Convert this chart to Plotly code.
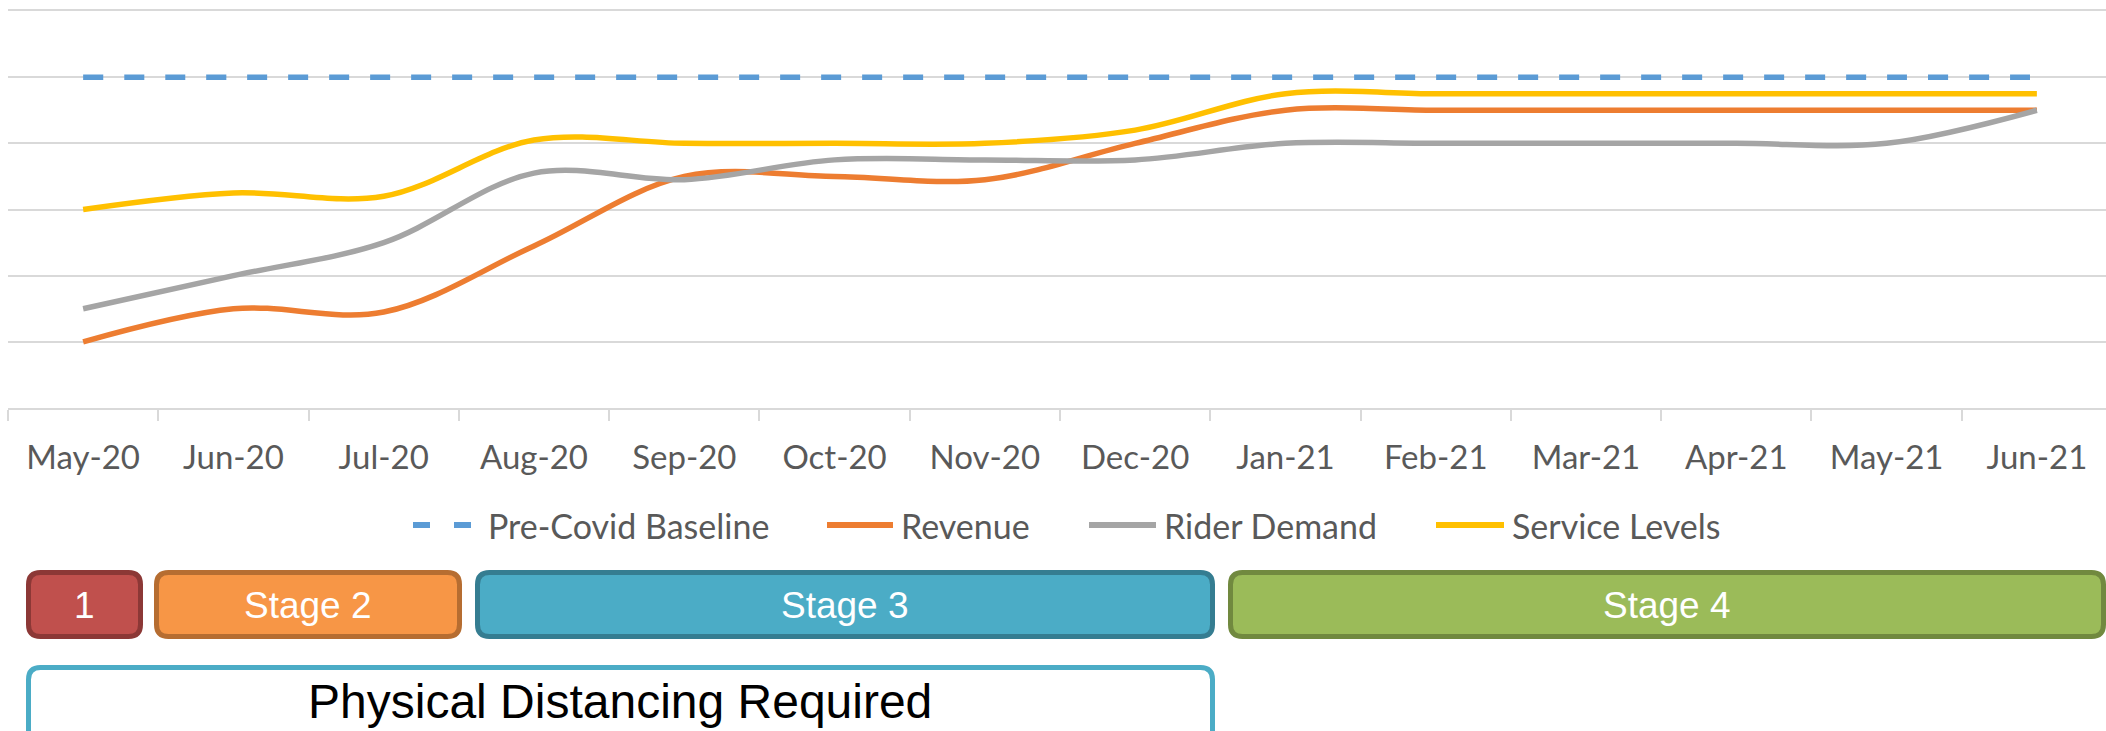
import plotly.graph_objects as go

months = ["May-20", "Jun-20", "Jul-20", "Aug-20", "Sep-20", "Oct-20", "Nov-20",
          "Dec-20", "Jan-21", "Feb-21", "Mar-21", "Apr-21", "May-21", "Jun-21"]

baseline = [100] * 14
revenue = [20, 30, 29, 49, 70, 70, 69, 80, 90, 90, 90, 90, 90, 90]
rider_demand = [30, 40, 50, 71, 69, 75, 75, 75, 80, 80, 80, 80, 80, 90]
service_levels = [60, 65, 64, 81, 80, 80, 80, 84, 95, 95, 95, 95, 95, 95]

series_names = ["Pre-Covid Baseline", "Revenue", "Rider Demand", "Service Levels"]
series_colors = ["#5b9bd5", "#ed7d31", "#a5a5a5", "#ffc000"]

# stage bars under the chart: label, left px, right px, fill, edge
stages = [
    ("1", 26, 143, "#c0504d", "#8c3836"),
    ("Stage 2", 154, 462, "#f79646", "#b66d31"),
    ("Stage 3", 475, 1215, "#4bacc6", "#357d91"),
    ("Stage 4", 1228, 2106, "#9bbb59", "#71893f"),
]

W, H = 2106, 731
L, T, B = 8, 11, 408   # plot area in page pixels


def px_x(x):
    return (x - L) / (W - L)


def px_y(y):
    return (B - y) / (B - T)


def rounded_box(x0, y0, x1, y1, r):
    # rounded rectangle path in paper coords, built from page pixels
    rx, ry = r / (W - L), r / (B - T)
    a, b, c, d = px_x(x0), px_x(x1), px_y(y0), px_y(y1)
    return (f"M {a + rx} {c} L {b - rx} {c} Q {b} {c} {b} {c - ry} "
            f"L {b} {d + ry} Q {b} {d} {b - rx} {d} L {a + rx} {d} "
            f"Q {a} {d} {a} {d + ry} L {a} {c - ry} Q {a} {c} {a + rx} {c} Z")


fig = go.Figure()
for name, vals, col in zip(series_names, [baseline, revenue, rider_demand, service_levels], series_colors):
    fig.add_trace(go.Scatter(
        x=months, y=vals, name=name, mode="lines",
        line=dict(color=col, width=5.5, shape="spline", smoothing=1,
                  dash="20px,21px" if name == "Pre-Covid Baseline" else "solid"),
        showlegend=False,
    ))

shapes = []
annotations = []
bw = 5
for label, x0, x1, fill, edge in stages:
    shapes.append(dict(type="path", xref="paper", yref="paper",
                       path=rounded_box(x0 + bw / 2, 570 + bw / 2, x1 - bw / 2, 639 - bw / 2, 12),
                       fillcolor=fill, line=dict(color=edge, width=bw)))
    annotations.append(dict(x=px_x((x0 + x1) / 2), y=px_y(605), xref="paper", yref="paper",
                            xanchor="center", yanchor="middle",
                            text=label, showarrow=False,
                            font=dict(family="Liberation Sans, Arial", size=37, color="white")))

shapes.append(dict(type="path", xref="paper", yref="paper",
                   path=rounded_box(26 + bw / 2, 665 + bw / 2, 1215 - bw / 2, 760, 12),
                   fillcolor="white", line=dict(color="#4bacc6", width=bw)))
annotations.append(dict(x=px_x(620), y=px_y(701), xref="paper", yref="paper",
                        xanchor="center", yanchor="middle",
                        text="Physical Distancing Required", showarrow=False,
                        font=dict(family="Liberation Sans, Arial", size=48, color="black")))

# legend drawn by hand so the keys match the long Excel swatches
legend_items = [
    (411, 473, 486),
    (825, 895, 899),
    (1087, 1158, 1162),
    (1434, 1506, 1510),
]
ly = px_y(525)
for (s0, s1, tx), name, col in zip(legend_items, series_names, series_colors):
    if name == "Pre-Covid Baseline":
        segs = [(s0 + 2, 430), (454, s1 - 2)]
    else:
        segs = [(s0 + 2, s1 - 2)]
    for a, b in segs:
        shapes.append(dict(type="line", xref="paper", yref="paper",
                           x0=px_x(a), x1=px_x(b), y0=ly, y1=ly,
                           line=dict(color=col, width=6)))
    annotations.append(dict(x=px_x(tx), y=ly, xref="paper", yref="paper",
                            text=name, showarrow=False, xanchor="left", yanchor="middle",
                            font=dict(family="Lato, Open Sans", size=34, color="#595959")))

fig.update_layout(
    width=W, height=H,
    margin=dict(l=L, r=0, t=T, b=H - B),
    plot_bgcolor="white", paper_bgcolor="white",
    shapes=shapes, annotations=annotations,
    xaxis=dict(type="category", range=[-0.5, 13.46], showgrid=False,
               showline=True, mirror=True, linecolor="#d9d9d9", linewidth=2,
               ticks="outside", tickson="boundaries", ticklen=11, tickcolor="#d9d9d9", tickwidth=2,
               ticklabelstandoff=19,
               tickfont=dict(family="Lato, Open Sans", size=33, color="#595959")),
    yaxis=dict(range=[0, 120], dtick=20, showticklabels=False, zeroline=False,
               gridcolor="#d9d9d9", gridwidth=2),
)

# drop the page's default body margin so the figure sits at 0,0
fig.write_html("out.html", config={"displayModeBar": False},
               post_script="document.body.style.margin='0';")
